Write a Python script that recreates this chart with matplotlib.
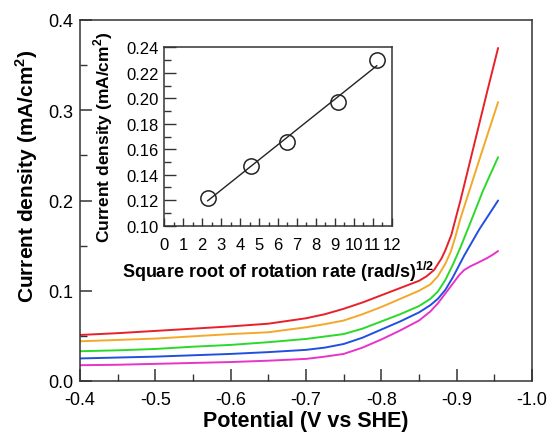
import numpy as np
import matplotlib
matplotlib.use("Agg")
import matplotlib.pyplot as plt
from matplotlib.ticker import MultipleLocator, FuncFormatter

plt.rcParams['font.family'] = ['Liberation Sans', 'DejaVu Sans']
plt.rcParams['mathtext.fontset'] = 'custom'
plt.rcParams['mathtext.rm'] = 'Liberation Sans'
plt.rcParams['mathtext.bf'] = 'Liberation Sans:bold'

# Linear sweep voltammograms at five rotation rates (potential in V vs SHE, current in mA/cm2)
v_red = [-0.40, -0.45, -0.50, -0.55, -0.60, -0.65, -0.70, -0.725, -0.75, -0.775, -0.80, -0.825,
         -0.85, -0.86, -0.87, -0.88, -0.885, -0.893, -0.898, -0.905, -0.915, -0.925, -0.94, -0.955]
i_red = [0.051, 0.053, 0.0555, 0.058, 0.0605, 0.0635, 0.0695, 0.074, 0.080, 0.087, 0.095, 0.103,
         0.111, 0.116, 0.123, 0.136, 0.145, 0.162, 0.178, 0.200, 0.234, 0.268, 0.319, 0.369]

v_orange = [-0.40, -0.45, -0.50, -0.55, -0.60, -0.65, -0.70, -0.725, -0.75, -0.775, -0.80, -0.825,
            -0.85, -0.865, -0.875, -0.885, -0.892, -0.898, -0.905, -0.915, -0.93, -0.955]
i_orange = [0.044, 0.0455, 0.047, 0.0495, 0.052, 0.054, 0.0595, 0.063, 0.067, 0.074, 0.082, 0.091,
            0.100, 0.107, 0.116, 0.130, 0.143, 0.159, 0.180, 0.206, 0.245, 0.309]

v_green = [-0.40, -0.45, -0.50, -0.55, -0.60, -0.65, -0.70, -0.75, -0.775, -0.80, -0.825, -0.85,
           -0.865, -0.875, -0.885, -0.895, -0.905, -0.918, -0.935, -0.955]
i_green = [0.033, 0.034, 0.0355, 0.038, 0.040, 0.043, 0.0466, 0.052, 0.058, 0.066, 0.074, 0.083,
           0.091, 0.099, 0.112, 0.129, 0.148, 0.175, 0.211, 0.248]

v_blue = [-0.40, -0.45, -0.50, -0.55, -0.60, -0.65, -0.70, -0.725, -0.75, -0.775, -0.80, -0.825,
          -0.85, -0.865, -0.875, -0.885, -0.895, -0.91, -0.93, -0.955]
i_blue = [0.025, 0.026, 0.027, 0.0285, 0.030, 0.032, 0.0345, 0.037, 0.041, 0.048, 0.057, 0.066,
          0.076, 0.084, 0.091, 0.101, 0.115, 0.139, 0.168, 0.200]

v_magenta = [-0.40, -0.45, -0.50, -0.55, -0.60, -0.65, -0.70, -0.725, -0.75, -0.775, -0.80, -0.825,
             -0.85, -0.865, -0.875, -0.885, -0.895, -0.903, -0.91, -0.918, -0.928, -0.94, -0.948, -0.955]
i_magenta = [0.0175, 0.018, 0.019, 0.020, 0.021, 0.0225, 0.0245, 0.027, 0.030, 0.037, 0.046, 0.056,
             0.067, 0.077, 0.086, 0.097, 0.108, 0.117, 0.123, 0.127, 0.131, 0.136, 0.140, 0.144]

# Levich plot: limiting current vs square root of rotation rate
sqrt_omega = [2.29, 4.58, 6.47, 9.15, 11.21]
i_lim = [0.122, 0.147, 0.166, 0.197, 0.230]

W, H = 552, 435
fig = plt.figure(figsize=(W / 100, H / 100), dpi=100)

def px_axes(x0, y0, x1, y1):
    return fig.add_axes([x0 / W, 1 - y1 / H, (x1 - x0) / W, (y1 - y0) / H])

spine_color = '#333333'

ax = px_axes(80, 21, 532, 382)
curves = [
    (v_red, i_red, '#e8202a'),
    (v_orange, i_orange, '#f4a82a'),
    (v_green, i_green, '#2bd92b'),
    (v_blue, i_blue, '#2050e0'),
    (v_magenta, i_magenta, '#e834c8'),
]
for v, i, c in curves:
    ax.plot(v, i, color=c, lw=1.4, solid_joinstyle='round', solid_capstyle='round')

ax.set_xlim(-0.4, -1.0)
ax.set_ylim(0, 0.4)
ax.xaxis.set_major_locator(MultipleLocator(0.1))
ax.xaxis.set_minor_locator(MultipleLocator(0.05))
ax.yaxis.set_major_locator(MultipleLocator(0.1))
ax.yaxis.set_minor_locator(MultipleLocator(0.05))
ax.xaxis.set_major_formatter(FuncFormatter(lambda x, p: f"{x:.1f}"))
ax.yaxis.set_major_formatter(FuncFormatter(lambda y, p: f"{y:.1f}"))
ax.tick_params(which='both', direction='in', top=False, right=False,
               color=spine_color, labelsize=13)
ax.tick_params(which='major', length=8.5, width=1.1)
ax.tick_params(which='minor', length=5, width=1.0)
ax.tick_params(axis='x', pad=7)
ax.tick_params(axis='y', pad=5)
for s in ax.spines.values():
    s.set_color(spine_color)
    s.set_linewidth(1.1)
ax.set_xlabel('Potential (V vs SHE)', fontsize=15.5, fontweight='bold')
ax.set_ylabel(r'Current density (mA/cm$^{\mathbf{2}}$)', fontsize=15, fontweight='bold')
ax.xaxis.set_label_coords(0.5, -0.08)
ax.yaxis.set_label_coords(-0.088, 0.571)

# Inset
ins = px_axes(164.3, 48.3, 391.7, 226.7)
coef = np.polyfit(sqrt_omega, i_lim, 1)
xs = np.array([sqrt_omega[0], sqrt_omega[-1]])
ins.plot(xs, np.polyval(coef, xs), color='#222222', lw=1.0)
ins.plot(sqrt_omega, i_lim, 'o', mfc='none', mec='#222222', mew=1.1, ms=11)
ins.set_xlim(0, 12)
ins.set_ylim(0.10, 0.24)
ins.xaxis.set_major_locator(MultipleLocator(1))
ins.xaxis.set_minor_locator(MultipleLocator(0.5))
ins.yaxis.set_major_locator(MultipleLocator(0.02))
ins.yaxis.set_minor_locator(MultipleLocator(0.01))
ins.yaxis.set_major_formatter(FuncFormatter(lambda y, p: f"{y:.2f}"))
ins.tick_params(which='both', direction='in', top=False, right=False,
                color=spine_color, labelsize=12)
ins.tick_params(axis='y', which='major', length=8.5, width=1.0, pad=4)
ins.tick_params(axis='y', which='minor', length=5, width=1.0)
ins.tick_params(axis='x', which='major', length=6, width=1.0, pad=8)
ins.tick_params(axis='x', which='minor', length=3, width=1.0)
for s in ins.spines.values():
    s.set_color(spine_color)
    s.set_linewidth(1.1)
ins.set_xlabel(r'Square root of rotation rate (rad/s)$^{\mathbf{1/2}}$', fontsize=13, fontweight='bold')
ins.set_ylabel(r'Current density (mA/cm$^{\mathbf{2}}$)', fontsize=12.5, fontweight='bold')
ins.xaxis.set_label_coords(0.5, -0.185)
ins.yaxis.set_label_coords(-0.215, 0.5)

fig.savefig('out.png', dpi=100)
